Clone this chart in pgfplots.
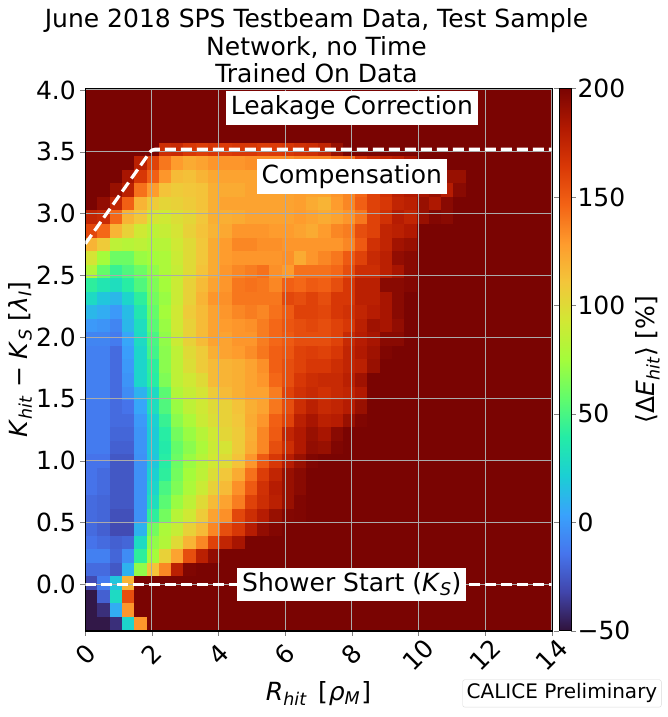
\documentclass[border=0pt]{standalone}
\usepackage{fontspec}
\setmainfont{DejaVu Sans}
\usepackage{pgfplots}
\pgfplotsset{compat=1.18}
\newcommand{\fs}[1]{\fontsize{#1}{27.5}\selectfont}
\pgfdeclareplotmark{cell}{\pgfpathrectangle{\pgfpoint{-6.25pt}{-6.88pt}}{\pgfpoint{12.5pt}{13.76pt}}\pgfusepath{fill}}
\begin{document}
\begin{tikzpicture}[x=1pt,y=1pt]
\path[use as bounding box] (-85.3,-86.3) rectangle (582.7,630.7);
\begin{axis}[
  scale only axis, at={(0pt,0pt)}, anchor=south west,
  width=466.4pt, height=542.2pt,
  xmin=0, xmax=14, ymin=-0.375, ymax=4.012,
  xtick={0,2,4,6,8,10,12,14}, xticklabels={0,2,4,6,8,10,12,14},
  ytick={0,0.5,1,1.5,2,2.5,3,3.5,4}, yticklabels={0.0,0.5,1.0,1.5,2.0,2.5,3.0,3.5,4.0},
  tick label style={font=\fs{25}},
  xticklabel style={anchor=center,yshift=-19pt,rotate=45},
  yticklabel style={xshift=-1pt},
  tick align=outside, major tick length=5pt, tick pos=left,
  xlabel={\fs{25}\textit{R}\textsubscript{\textit{hit}}\hspace{3pt} [\hspace{1pt}\textit{ρ}\textsubscript{\textit{M}}\hspace{1pt}]},
  xlabel style={at={(axis description cs:0.5,0)},anchor=center,yshift=-63pt},
  ylabel={\fs{25}\textit{K}\textsubscript{\textit{hit}} − \textit{K}\textsubscript{\textit{S}} [\textit{λ}\textsubscript{\textit{I}}]},
  ylabel style={at={(axis description cs:-0.14,0.5)},anchor=center},
  title={June 2018 SPS Testbeam Data, Test Sample\\Network, no Time\\Trained On Data},
  title style={font=\fs{25}, align=center, at={(0.5,1)}, anchor=south, yshift=-4pt, xshift=-2pt},
  colormap={turbo}{rgb255=(48,18,59) rgb255=(65,69,171) rgb255=(70,117,237) rgb255=(57,162,252) rgb255=(27,207,212) rgb255=(36,236,166) rgb255=(97,252,108) rgb255=(164,252,59) rgb255=(209,232,52) rgb255=(243,198,58) rgb255=(254,155,45) rgb255=(243,99,21) rgb255=(217,56,6) rgb255=(177,25,1) rgb255=(122,4,2)},
  point meta min=-50, point meta max=200,
  colorbar,
  colorbar style={
    at={(1.0157,1)}, anchor=north west,
    scale only axis, width=12pt,
    ytick={-50,0,50,100,150,200},
    yticklabels={−50,0,50,100,150,200},
    tick label style={font=\fs{25}},
    yticklabel style={xshift=-2pt},
    ylabel={\fs{25}⟨Δ\textit{E}\textsubscript{\textit{hit}}⟩ [\%]},
    ylabel style={at={(axis description cs:7.4,0.5)},anchor=center},
    major tick length=5pt, tick align=outside,
  },
]
\addplot[scatter, only marks, mark=cell, point meta=explicit, scatter/use mapped color={draw=none,fill=mapped color}]
table[row sep=crcr, meta=z,
  x expr={(mod(\coordindex,38)+0.5)*14/38},
  y expr={4.012-(floor((\coordindex+0.5)/38)+0.5)*0.109675}] {
z\\
200\\200\\200\\200\\200\\200\\200\\200\\200\\200\\200\\200\\200\\200\\200\\200\\200\\200\\200\\200\\200\\200\\200\\200\\200\\200\\200\\200\\200\\200\\200\\200\\200\\200\\200\\200\\200\\200\\
200\\200\\200\\200\\200\\200\\200\\200\\200\\200\\200\\200\\200\\200\\200\\200\\200\\200\\200\\200\\200\\200\\200\\200\\200\\200\\200\\200\\200\\200\\200\\200\\200\\200\\200\\200\\200\\200\\
200\\200\\200\\200\\200\\200\\200\\200\\200\\200\\200\\200\\200\\200\\200\\200\\200\\200\\200\\200\\200\\200\\200\\200\\200\\200\\200\\200\\200\\200\\200\\200\\200\\200\\200\\200\\200\\200\\
200\\200\\200\\200\\200\\200\\200\\200\\200\\200\\200\\200\\200\\200\\200\\200\\200\\200\\200\\200\\200\\200\\200\\200\\200\\200\\200\\200\\200\\200\\200\\200\\200\\200\\200\\200\\200\\200\\
200\\200\\200\\200\\200\\200\\170\\172\\165\\162\\165\\163\\165\\165\\162\\163\\165\\168\\170\\175\\190\\200\\200\\200\\200\\200\\200\\200\\200\\200\\200\\200\\200\\200\\200\\200\\200\\200\\
200\\200\\200\\200\\178\\160\\140\\128\\122\\125\\130\\130\\130\\132\\132\\132\\132\\135\\135\\135\\140\\142\\165\\172\\175\\178\\185\\200\\200\\200\\200\\200\\200\\200\\200\\200\\200\\200\\
200\\200\\200\\185\\165\\148\\130\\115\\113\\118\\123\\125\\125\\125\\127\\127\\127\\127\\130\\130\\135\\140\\150\\165\\170\\178\\182\\190\\190\\190\\190\\200\\200\\200\\200\\200\\200\\200\\
200\\200\\190\\178\\142\\128\\112\\108\\110\\112\\120\\122\\122\\125\\125\\125\\125\\127\\125\\125\\130\\135\\145\\160\\168\\178\\182\\185\\190\\180\\195\\200\\200\\200\\200\\200\\200\\200\\
200\\192\\175\\148\\118\\108\\103\\105\\108\\112\\120\\125\\125\\125\\125\\125\\125\\127\\122\\118\\128\\135\\148\\160\\165\\175\\178\\190\\183\\195\\200\\200\\200\\200\\200\\200\\200\\200\\
175\\172\\145\\118\\110\\95\\92\\98\\102\\110\\120\\120\\122\\125\\125\\125\\125\\128\\125\\122\\125\\130\\140\\160\\168\\180\\175\\190\\197\\195\\200\\200\\200\\200\\200\\200\\200\\200\\
158\\145\\118\\105\\92\\85\\88\\95\\105\\112\\118\\123\\130\\130\\130\\128\\128\\125\\122\\128\\135\\138\\155\\160\\175\\178\\182\\200\\200\\200\\200\\200\\200\\200\\200\\200\\200\\200\\
118\\108\\85\\82\\85\\80\\82\\92\\100\\110\\122\\128\\135\\135\\132\\132\\130\\130\\130\\130\\130\\135\\150\\168\\175\\187\\190\\200\\200\\200\\200\\200\\200\\200\\200\\200\\200\\200\\
95\\75\\60\\60\\72\\75\\78\\90\\100\\110\\122\\128\\130\\130\\130\\130\\132\\122\\130\\135\\140\\150\\160\\172\\178\\192\\195\\200\\200\\200\\200\\200\\200\\200\\200\\200\\200\\200\\
80\\58\\45\\52\\60\\70\\78\\88\\100\\112\\122\\130\\135\\138\\142\\132\\128\\142\\142\\142\\145\\155\\170\\170\\178\\185\\195\\200\\200\\200\\200\\200\\200\\200\\200\\200\\200\\200\\
42\\35\\30\\40\\52\\65\\75\\90\\105\\115\\125\\130\\140\\142\\140\\135\\148\\145\\150\\148\\155\\165\\178\\178\\195\\195\\197\\200\\200\\200\\200\\200\\200\\200\\200\\200\\200\\200\\
28\\18\\12\\25\\42\\62\\72\\90\\105\\118\\130\\132\\140\\140\\140\\140\\158\\155\\160\\155\\165\\165\\178\\178\\185\\195\\200\\200\\200\\200\\200\\200\\200\\200\\200\\200\\200\\200\\
12\\8\\0\\14\\35\\58\\75\\92\\108\\115\\125\\130\\135\\138\\135\\142\\150\\160\\160\\158\\165\\168\\175\\180\\185\\195\\200\\200\\200\\200\\200\\200\\200\\200\\200\\200\\200\\200\\
0\\-2\\-8\\12\\30\\55\\72\\92\\105\\115\\125\\128\\130\\132\\138\\145\\152\\155\\158\\155\\160\\165\\178\\188\\185\\192\\200\\200\\200\\200\\200\\200\\200\\200\\200\\200\\200\\200\\
-8\\-8\\-12\\5\\28\\50\\70\\90\\105\\115\\125\\125\\130\\130\\138\\145\\150\\155\\155\\155\\160\\172\\180\\185\\195\\195\\200\\200\\200\\200\\200\\200\\200\\200\\200\\200\\200\\200\\
-10\\-10\\-18\\2\\25\\48\\68\\85\\100\\108\\120\\125\\128\\133\\140\\148\\152\\160\\162\\160\\165\\175\\182\\188\\198\\200\\200\\200\\200\\200\\200\\200\\200\\200\\200\\200\\200\\200\\
-10\\-10\\-18\\0\\25\\42\\68\\85\\98\\108\\115\\118\\120\\125\\132\\148\\155\\160\\165\\165\\170\\175\\178\\190\\200\\200\\200\\200\\200\\200\\200\\200\\200\\200\\200\\200\\200\\200\\
-10\\-10\\-18\\-2\\25\\40\\65\\85\\92\\100\\115\\118\\120\\125\\130\\145\\155\\165\\170\\172\\172\\178\\188\\200\\200\\200\\200\\200\\200\\200\\200\\200\\200\\200\\200\\200\\200\\200\\
-10\\-10\\-18\\-5\\10\\28\\55\\80\\88\\95\\108\\115\\120\\125\\125\\138\\160\\168\\172\\168\\172\\175\\182\\200\\200\\200\\200\\200\\200\\200\\200\\200\\200\\200\\200\\200\\200\\200\\
-12\\-12\\-18\\-15\\5\\30\\52\\72\\85\\92\\100\\105\\112\\120\\125\\140\\155\\170\\178\\172\\175\\180\\190\\200\\200\\200\\200\\200\\200\\200\\200\\200\\200\\200\\200\\200\\200\\200\\
-12\\-12\\-18\\-18\\0\\22\\45\\68\\78\\90\\98\\105\\110\\122\\130\\148\\160\\178\\185\\178\\180\\190\\198\\200\\200\\200\\200\\200\\200\\200\\200\\200\\200\\200\\200\\200\\200\\200\\
-12\\-12\\-20\\-20\\-2\\20\\40\\62\\72\\82\\92\\102\\108\\120\\135\\150\\175\\182\\190\\185\\195\\200\\200\\200\\200\\200\\200\\200\\200\\200\\200\\200\\200\\200\\200\\200\\200\\200\\
-12\\-12\\-22\\-22\\-2\\20\\38\\58\\68\\78\\90\\95\\108\\122\\135\\155\\170\\182\\192\\190\\198\\200\\200\\200\\200\\200\\200\\200\\200\\200\\200\\200\\200\\200\\200\\200\\200\\200\\
-15\\-15\\-25\\-25\\-3\\18\\40\\60\\72\\82\\92\\100\\112\\130\\150\\165\\180\\190\\198\\200\\200\\200\\200\\200\\200\\200\\200\\200\\200\\200\\200\\200\\200\\200\\200\\200\\200\\200\\
-15\\-18\\-25\\-25\\-3\\22\\42\\62\\75\\85\\98\\110\\122\\142\\162\\175\\190\\195\\200\\200\\200\\200\\200\\200\\200\\200\\200\\200\\200\\200\\200\\200\\200\\200\\200\\200\\200\\200\\
-15\\-18\\-25\\-25\\-3\\25\\50\\65\\78\\90\\105\\115\\132\\150\\168\\180\\190\\195\\200\\200\\200\\200\\200\\200\\200\\200\\200\\200\\200\\200\\200\\200\\200\\200\\200\\200\\200\\200\\
-18\\-20\\-25\\-25\\-3\\30\\55\\72\\85\\100\\115\\125\\138\\160\\170\\178\\190\\198\\200\\200\\200\\200\\200\\200\\200\\200\\200\\200\\200\\200\\200\\200\\200\\200\\200\\200\\200\\200\\
-18\\-20\\-28\\-28\\-3\\42\\62\\82\\92\\108\\125\\132\\158\\170\\180\\190\\197\\198\\200\\200\\200\\200\\200\\200\\200\\200\\200\\200\\200\\200\\200\\200\\200\\200\\200\\200\\200\\200\\
-18\\-22\\-30\\-30\\10\\62\\78\\88\\105\\115\\135\\155\\165\\180\\192\\197\\200\\200\\200\\200\\200\\200\\200\\200\\200\\200\\200\\200\\200\\200\\200\\200\\200\\200\\200\\200\\200\\200\\
-15\\-18\\-22\\-20\\28\\70\\80\\100\\118\\135\\160\\175\\185\\200\\200\\200\\200\\200\\200\\200\\200\\200\\200\\200\\200\\200\\200\\200\\200\\200\\200\\200\\200\\200\\200\\200\\200\\200\\
-10\\-10\\-20\\-5\\42\\75\\105\\125\\155\\178\\192\\200\\200\\200\\200\\200\\200\\200\\200\\200\\200\\200\\200\\200\\200\\200\\200\\200\\200\\200\\200\\200\\200\\200\\200\\200\\200\\200\\
-18\\-18\\-25\\10\\70\\112\\135\\178\\198\\200\\200\\200\\200\\200\\200\\200\\200\\200\\200\\200\\200\\200\\200\\200\\200\\200\\200\\200\\200\\200\\200\\200\\200\\200\\200\\200\\200\\200\\
-30\\-12\\18\\118\\200\\200\\200\\200\\200\\200\\200\\200\\200\\200\\200\\200\\200\\200\\200\\200\\200\\200\\200\\200\\200\\200\\200\\200\\200\\200\\200\\200\\200\\200\\200\\200\\200\\200\\
-48\\-22\\28\\155\\200\\200\\200\\200\\200\\200\\200\\200\\200\\200\\200\\200\\200\\200\\200\\200\\200\\200\\200\\200\\200\\200\\200\\200\\200\\200\\200\\200\\200\\200\\200\\200\\200\\200\\
-48\\-40\\8\\130\\200\\200\\200\\200\\200\\200\\200\\200\\200\\200\\200\\200\\200\\200\\200\\200\\200\\200\\200\\200\\200\\200\\200\\200\\200\\200\\200\\200\\200\\200\\200\\200\\200\\200\\
-48\\-48\\-40\\25\\130\\200\\200\\200\\200\\200\\200\\200\\200\\200\\200\\200\\200\\200\\200\\200\\200\\200\\200\\200\\200\\200\\200\\200\\200\\200\\200\\200\\200\\200\\200\\200\\200\\200\\
};
\end{axis}
\begin{axis}[
  scale only axis, at={(0pt,0pt)}, anchor=south west,
  width=466.4pt, height=542.2pt,
  xmin=0, xmax=14, ymin=-0.375, ymax=4.012, clip=true,
  xtick={0,2,4,6,8,10,12,14}, xticklabels={},
  ytick={0,0.5,1,1.5,2,2.5,3,3.5,4}, yticklabels={},
  major tick length=0pt,
  grid=major, major grid style={color=black!33, line width=1pt},
]
\addplot[white, line width=3.2pt, dash pattern=on 11pt off 5pt, line join=round, rounded corners=3pt] coordinates {(0,2.755) (2,3.52) (14,3.52)};
\addplot[white, line width=3.2pt, dash pattern=on 11pt off 5pt] coordinates {(0,0) (14,0)};
\node[fill=white, font=\fs{25}, inner sep=5pt] at (axis cs:8,3.854) {Leakage Correction};
\node[fill=white, font=\fs{25}, inner sep=5pt] at (axis cs:8,3.30) {Compensation};
\node[fill=white, font=\fs{25}, inner sep=5pt] at (axis cs:8,0) {Shower Start (\textit{K}\textsubscript{\textit{S}})};
\end{axis}
\node[draw=black!15, fill=white, rounded corners=2pt, font=\fs{20}, inner sep=4pt, anchor=center] at (476.7,-62.7) {CALICE Preliminary};
\end{tikzpicture}
\end{document}
